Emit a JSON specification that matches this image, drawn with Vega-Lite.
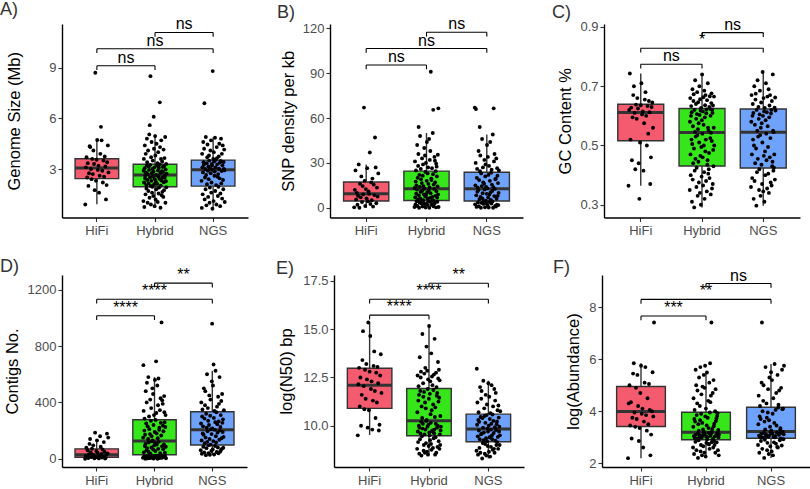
{
"padding": {"left": 0, "top": 0, "right": 0, "bottom": 0},
"datasets": {
"pts": [
{"p":"A","g":"HiFi","v":[0.9,3.1,3.7,2.5,3.35,2.0,2.75,4.35,4.3,3.0,2.4,3.6,2.7,4.1,3.3,1.75,8.7,2.3,3.55,4.72,2.95,3.2,1.6,2.6,3.9,5.5,4.7,2.9,2.2,3.5,2.55,3.75,3.15,1.2,2.05,3.4,4.4,2.8]},
{"p":"A","g":"Hybrid","v":[1.1,2.9,3.6,2.2,0.75,3.05,4.4,2.45,2.6,1.5,3.9,2.8,2.05,1.85,3.2,4.8,3.4,2.35,1.0,2.7,4.1,1.7,2.15,3.15,2.95,5.05,1.3,5.6,2.5,3.25,8.5,2.0,0.9,3.7,2.3,4.6,2.75,1.6,1.95,3.0,3.5,2.55,1.4,2.85,6.1,4.2,2.1,3.1,0.8,2.4,4.95,3.8,1.2,2.25,2.65,1.8,4.5,3.22,2.62,2.12,3.35,1.05,2.92,4.0,2.58,1.55,3.08,1.9,2.42,3.28,6.95,4.3,2.78,0.71,2.02,3.6,4.7,2.32,1.45,2.88,3.45,1.65,2.52,3.12,2.82,1.35,4.15,2.22,1.75,3.18,3.65,2.48,2.6,4.9,1.0,2.98,2.28,3.3,1.92,2.72]},
{"p":"A","g":"NGS","v":[2.3,0.7,3.9,3.1,1.5,2.8,4.6,3.4,3.25,4.2,6.9,1.2,2.5,3.0,1.8,4.9,2.65,0.85,3.35,2.1,3.7,4.45,2.9,1.35,3.15,2.4,3.8,3.5,1.0,1.9,3.05,4.1,2.75,4.7,1.6,2.2,3.3,3.2,0.65,8.8,2.95,3.6,1.1,4.0,3.45,2.6,2.85,4.85,1.7,3.1,3.55,2.05,0.9,4.3,3.65,3.28,2.55,1.4,2.7,1.95,3.75,3.02,4.5,2.45,3.38,0.8,1.55,3.48,4.8,2.15,2.88,3.9,1.25,3.22,4.4,2.35,1.8,3.42,3.0,4.15,2.92,1.05]},
{"p":"B","g":"HiFi","v":[0.3,12,25,5.5,10,2.0,8,29,0,16,7,21,3.8,14.5,9,67,18,1.2,12.5,6.3,26.5,4.4,11,9.3,37,2.5,17,5,19.5,0.8,15.5,8.5,47,27,3.0,13.5,7.5,23]},
{"p":"B","g":"Hybrid","v":[0.5,13.2,31,7,2.2,17.5,25,9.4,15,4.4,12.2,42,1.2,20,5.6,28,36,54,8.3,0,22,3.5,14,48,6.3,10.6,26,19,2.8,4.8,16.5,33,11.4,0.8,21.5,29,5,14.5,3.2,9,40,12.8,1.5,35,7.6,24,0.2,30,8.6,2.5,18,44,10.2,6,23,1.8,27,16,11.8,4.2,46,0,13.6,32,6.6,38,9.8,91,3.8,19.5,18.5,2,26.5,7.3,5.3,50,22.5,65.5,1,15.5,4.6,12.6,34,3,31.5,17,8,24.4,0.3,29.5,11,27.5,21,6.8,4,14.2,35.5,8.8,66.5,0.5]},
{"p":"B","g":"NGS","v":[67,2.3,15,30,66,8.3,0.6,20,26,10.8,13.5,3.6,11.8,38,1,18.5,5.8,54,24.5,35,7.3,0,23,3.3,14.5,46,6.3,9.8,27,17,2.6,4.4,16,32,12.3,0.3,21,29,4.8,14,3,9.3,42,13,1.6,34,6.8,22,0.2,28,8.8,3.9,18,44,10.3,5.3,23.5,2.8,25.5,15.5,11.3,4.2,49,0,13.8,66.5,31,7.8,36,12.6,1.3,19,19.5,0.8,33,6,2,26.5,21.5,8,16.5,1.8,10,25]},
{"p":"C","g":"HiFi","v":[0.364,0.62,0.743,0.52,0.628,0.45,0.595,0.67,0.7,0.61,0.42,0.638,0.59,0.66,0.625,0.44,0.32,0.51,0.636,0.71,0.605,0.615,0.415,0.575,0.655,0.68,0.6,0.5,0.633,0.54,0.65,0.612,0.37,0.46,0.63,0.645,0.56]},
{"p":"C","g":"Hybrid","v":[0.35,0.58,0.66,0.47,0.4,0.6,0.633,0.52,0.612,0.31,0.505,0.69,0.385,0.565,0.44,0.65,0.673,0.49,0.291,0.62,0.415,0.546,0.72,0.455,0.53,0.64,0.59,0.36,0.425,0.606,0.68,0.535,0.33,0.555,0.646,0.445,0.575,0.375,0.51,0.7,0.603,0.34,0.656,0.465,0.618,0.3,0.627,0.495,0.395,0.585,0.74,0.54,0.46,0.615,0.365,0.663,0.57,0.5,0.41,0.685,0.32,0.595,0.636,0.48,0.67,0.52,0.38,0.609,0.622,0.345,0.653,0.435,0.45,0.71,0.56,0.405,0.55,0.42,0.475,0.63,0.39,0.666,0.624,0.525,0.6,0.335,0.543,0.643,0.676,0.515,0.355,0.62,0.61,0.37,0.635,0.485,0.43,0.56,0.665,0.5]},
{"p":"C","g":"NGS","v":[0.36,0.58,0.67,0.47,0.39,0.6,0.64,0.52,0.61,0.32,0.5,0.7,0.38,0.57,0.44,0.655,0.675,0.49,0.297,0.62,0.41,0.55,0.72,0.455,0.53,0.63,0.59,0.35,0.42,0.605,0.685,0.535,0.33,0.56,0.645,0.435,0.575,0.37,0.51,0.748,0.6,0.345,0.66,0.465,0.615,0.31,0.627,0.48,0.4,0.585,0.71,0.54,0.45,0.612,0.355,0.665,0.565,0.495,0.405,0.69,0.34,0.595,0.635,0.46,0.67,0.525,0.375,0.608,0.62,0.365,0.65,0.43,0.445,0.74,0.55,0.415,0.545,0.425,0.47,0.628,0.385,0.662,0.618]},
{"p":"D","g":"HiFi","v":[0,20,78,14,60,5,30,105,140,44,11,71,26,95,25,3,185,10,55,130,42,18,2,22,160,85,34,8,66,16,118,50,1,6,28,178,38,150]},
{"p":"D","g":"Hybrid","v":[6,150,665,340,45,18,200,285,90,170,0,105,480,12,250,60,400,540,75,2,230,24,140,580,50,115,300,210,4,26,175,420,35,8,270,360,80,160,16,124,500,130,3,460,65,240,1,310,95,20,190,560,110,55,276,10,692,325,180,100,22,520,0,145,380,70,570,120,14,205,220,5,345,40,30,430,255,27,165,969,7,88,415,9,390,235,68,195,15,102,445,330,260,42,19,225,310,85,3]},
{"p":"D","g":"NGS","v":[60,250,400,130,35,300,350,180,230,85,170,500,45,285,110,380,480,150,25,320,75,220,600,120,195,360,270,40,95,240,450,140,28,305,420,100,210,55,175,550,960,215,65,520,125,670,290,30,340,205,90,260,625,160,115,330,48,370,245,185,80,440,38,265,390,135,580,200,50,225,310,62,410,145,70,460,255,190,280,78,155,345]},
{"p":"E","g":"HiFi","v":[9.5,12.15,13.0,11.0,12.5,10.0,11.6,13.4,14.9,12.05,10.85,12.9,11.4,13.2,12.4,9.9,15.35,10.8,12.8,14.65,11.9,12.3,9.8,11.3,13.1,13.85,11.8,10.4,12.75,11.2,13.05,12.2,9.75,10.05,12.6,13.7,11.7]},
{"p":"E","g":"Hybrid","v":[8.8,10.7,12.6,9.7,9.15,11.3,12.05,10.0,11.6,8.55,9.9,13.55,9.3,11.8,9.6,12.5,12.8,10.2,8.45,11.0,9.45,10.4,14.75,9.85,10.1,12.2,11.5,8.7,9.0,11.75,12.7,9.55,8.6,11.2,13.0,9.8,10.9,9.1,10.25,14.1,10.3,8.65,12.85,9.95,11.9,8.5,12.4,10.05,8.95,11.4,15.17,9.65,9.5,11.65,9.25,12.3,10.6,10.15,9.05,13.75,8.75,10.8,12.55,9.75,12.1,9.7,8.85,11.1,11.85,9.35,12.65,9.6,9.8,14.5,10.45,8.5,10.95,9.4,10.1,12.75,8.6,12.0,11.55,9.9,11.7,8.9,10.0,13.3,12.45,11.25,9.2,12.9,11.45,8.8,12.35,9.55,9.0,10.5,9.75,9.95]},
{"p":"E","g":"NGS","v":[8.7,12.95,10.05,11.2,9.45,8.5,10.3,10.7,9.75,10.2,8.85,9.3,12.0,8.6,10.45,9.55,11.4,11.8,9.6,8.3,10.4,9.1,9.9,12.33,9.25,9.65,10.9,10.5,8.55,9.05,10.15,11.6,9.35,8.45,10.55,11.1,9.2,9.85,8.95,9.7,12.2,10.0,8.65,11.5,9.4,10.35,8.4,10.65,9.8,8.9,10.1,12.1,9.5,9.3,10.58,8.75,11.0,10.25,9.62,8.8,11.9,8.6,9.92,11.3,9.22,11.7,9.78,9.0,10.08,10.22,9.15,10.8,9.42,8.8,11.05,10.42,9.7,9.95,9.0,9.5,10.75]},
{"p":"F","g":"HiFi","v":[2.19,4.3,5.0,3.45,4.35,2.95,3.75,5.45,5.85,3.95,3.4,4.9,3.7,5.4,4.2,2.85,3.35,4.7,5.75,3.9,4.1,2.6,3.6,5.1,5.7,3.85,3.25,4.5,3.5,5.05,4.05,2.3,3.1,4.0,5.5,3.8,7.42]},
{"p":"F","g":"Hybrid","v":[2.6,3.4,4.5,3.04,2.35,3.7,4.05,2.96,3.6,2.82,5.6,3.1,5.0,2.5,3.85,2.94,4.3,4.8,3.14,2.2,3.5,2.88,3.25,5.3,3.0,3.08,4.2,3.65,5.7,2.45,2.7,3.9,4.65,2.98,2.3,3.55,4.95,3.06,3.3,2.65,3.18,5.4,3.2,2.4,4.9,3.12,5.75,3.8,2.25,4.1,3.02,2.78,3.45,5.49,2.92,3.0,3.75,2.75,4.4,3.35,3.16,2.72,5.1,2.55,3.95,5.85,4.35,3.05,4.6,3.15,7.42,2.8,3.22,3.32,2.9,4.7,2.93,2.6,5.2,3.42,2.85,3.52,2.7,3.03,4.0,2.4,4.85,3.62,3.07,3.72,2.8,3.13,3.82,3.92,3.17,2.5,3.28,2.99,2.3,3.1]},
{"p":"F","g":"NGS","v":[2.7,3.5,4.6,3.06,2.4,3.8,4.2,3.0,3.7,2.85,3.12,5.1,7.42,2.55,4.0,2.98,4.4,5.0,3.16,2.2,3.6,2.9,3.3,5.7,3.04,3.1,4.3,3.75,2.5,2.78,3.95,4.85,3.02,2.35,3.65,5.3,3.08,3.4,2.65,3.2,5.5,3.25,2.45,5.2,3.14,3.9,2.3,4.5,3.01,2.8,3.55,5.82,2.99,3.05,4.05,2.75,4.7,3.45,3.18,2.62,5.4,2.6,4.14,4.25,3.09,4.8,3.13,2.88,3.28,3.35,2.95,4.9,3.17,2.68,5.6,4.08,3.21,4.1,2.92,3.11,5.75]}
],
"box": [
{"p":"A","g":"HiFi","lo":0.91,"q1":2.43,"md":3.06,"q3":3.61,"hi":4.72},
{"p":"A","g":"Hybrid","lo":0.71,"q1":1.95,"md":2.64,"q3":3.28,"hi":5.05},
{"p":"A","g":"NGS","lo":0.65,"q1":1.99,"md":2.96,"q3":3.53,"hi":4.89},
{"p":"B","g":"HiFi","lo":0,"q1":4.5,"md":9.4,"q3":17.2,"hi":29},
{"p":"B","g":"Hybrid","lo":0,"q1":4.9,"md":12.7,"q3":24.5,"hi":50},
{"p":"B","g":"NGS","lo":0,"q1":4.5,"md":12.7,"q3":23.8,"hi":49},
{"p":"C","g":"HiFi","lo":0.364,"q1":0.516,"md":0.611,"q3":0.639,"hi":0.743},
{"p":"C","g":"Hybrid","lo":0.291,"q1":0.431,"md":0.544,"q3":0.625,"hi":0.74},
{"p":"C","g":"NGS","lo":0.297,"q1":0.424,"md":0.545,"q3":0.623,"hi":0.748},
{"p":"D","g":"HiFi","lo":0,"q1":10,"md":28,"q3":70,"hi":140},
{"p":"D","g":"Hybrid","lo":0,"q1":28,"md":125,"q3":277,"hi":580},
{"p":"D","g":"NGS","lo":25,"q1":97,"md":206,"q3":334,"hi":625},
{"p":"E","g":"HiFi","lo":9.52,"q1":10.9,"md":12.1,"q3":12.98,"hi":15.35},
{"p":"E","g":"Hybrid","lo":8.45,"q1":9.48,"md":10.26,"q3":11.93,"hi":15.17},
{"p":"E","g":"NGS","lo":8.3,"q1":9.17,"md":9.83,"q3":10.6,"hi":12.33},
{"p":"F","g":"HiFi","lo":2.19,"q1":3.41,"md":3.99,"q3":4.95,"hi":5.85},
{"p":"F","g":"Hybrid","lo":2.2,"q1":2.9,"md":3.19,"q3":3.96,"hi":5.49},
{"p":"F","g":"NGS","lo":2.2,"q1":2.96,"md":3.22,"q3":4.15,"hi":5.82}
],
"brk": [
{"p":"A","g1":"HiFi","g2":"Hybrid","y":9.12,"t":8.87,"lab":"ns"},
{"p":"A","g1":"HiFi","g2":"NGS","y":10.12,"t":9.87,"lab":"ns"},
{"p":"A","g1":"Hybrid","g2":"NGS","y":11.09,"t":10.84,"lab":"ns"},
{"p":"B","g1":"HiFi","g2":"Hybrid","y":95.5,"t":92.6,"lab":"ns"},
{"p":"B","g1":"HiFi","g2":"NGS","y":106.5,"t":103.6,"lab":"ns"},
{"p":"B","g1":"Hybrid","g2":"NGS","y":117.4,"t":114.5,"lab":"ns"},
{"p":"C","g1":"HiFi","g2":"Hybrid","y":0.774,"t":0.7595,"lab":"ns"},
{"p":"C","g1":"HiFi","g2":"NGS","y":0.828,"t":0.8135,"lab":"*"},
{"p":"C","g1":"Hybrid","g2":"NGS","y":0.881,"t":0.8665,"lab":"ns"},
{"p":"D","g1":"HiFi","g2":"Hybrid","y":1016,"t":986,"lab":"****"},
{"p":"D","g1":"HiFi","g2":"NGS","y":1134,"t":1104,"lab":"****"},
{"p":"D","g1":"Hybrid","g2":"NGS","y":1248,"t":1218,"lab":"**"},
{"p":"E","g1":"HiFi","g2":"Hybrid","y":15.73,"t":15.51,"lab":"****"},
{"p":"E","g1":"HiFi","g2":"NGS","y":16.55,"t":16.33,"lab":"****"},
{"p":"E","g1":"Hybrid","g2":"NGS","y":17.38,"t":17.16,"lab":"**"},
{"p":"F","g1":"HiFi","g2":"Hybrid","y":7.67,"t":7.505,"lab":"***"},
{"p":"F","g1":"HiFi","g2":"NGS","y":8.31,"t":8.145,"lab":"**"},
{"p":"F","g1":"Hybrid","g2":"NGS","y":8.92,"t":8.755,"lab":"ns"}
]
},
"resolve": {"scale": {"xOffset": "independent"}},
"vconcat": [
{"resolve": {"scale": {"xOffset": "independent"}},
"hconcat": [
{"width": 186, "height": 193.5, "title": {"text": "A)", "dx": -62, "offset": -2.5},
"resolve": {"scale": {"xOffset": "independent"}},
"layer": [
{"data":{"name":"box"},"transform":[{"filter":"datum.p==='A'"}],"mark":{"type":"rule","color":"#333333","strokeWidth":1.4},"encoding":{"x":{"field":"g","type":"nominal","title":null,"scale":{"domain":["HiFi","Hybrid","NGS"],"paddingInner":0.25,"paddingOuter":0.225}},"y":{"field":"lo","type":"quantitative","title":"Genome Size (Mb)","scale":{"domain":[0.13,11.59],"nice":false,"zero":false},"axis":{"values":[3,6,9],"format":"d","titleX":-48}},"y2":{"field":"hi"}}},
{"data":{"name":"box"},"transform":[{"filter":"datum.p==='A'"}],"mark":{"type":"bar","stroke":"#333333","strokeWidth":1.4},"encoding":{"x":{"field":"g","type":"nominal","title":null},"y":{"field":"q1","type":"quantitative","title":"Genome Size (Mb)"},"y2":{"field":"q3"},"fill":{"field":"g","type":"nominal","scale":{"domain":["HiFi","Hybrid","NGS"],"range":["#F55B6F","#37E51B","#6FA2FA"]},"legend":null}}},
{"data":{"name":"box"},"transform":[{"filter":"datum.p==='A'"}],"mark":{"type":"tick","color":"#333333","thickness":3,"size":43.6,"opacity":1},"encoding":{"x":{"field":"g","type":"nominal","title":null},"y":{"field":"md","type":"quantitative","title":"Genome Size (Mb)"}}},
{"data":{"name":"pts"},"transform":[{"filter":"datum.p==='A'"},{"flatten":["v"]},{"window":[{"op":"row_number","as":"rn"}],"groupby":["g"]},{"window":[{"op":"percent_rank","as":"pr"}],"sort":[{"field":"rn","order":"ascending"}],"groupby":["g"]}],"mark":{"type":"circle","color":"#000000","opacity":1,"size":15},"encoding":{"x":{"field":"g","type":"nominal","title":null},"xOffset":{"field":"pr","type":"quantitative","scale":{"domain":[0,1],"range":[10.2,33.4]}},"y":{"field":"v","type":"quantitative","title":"Genome Size (Mb)"}}},
{"data":{"name":"brk"},"transform":[{"filter":"datum.p==='A'"}],"mark":{"type":"rule","color":"#000000","strokeWidth":1.1},"encoding":{"x":{"field":"g1","type":"nominal","title":null},"x2":{"field":"g2"},"y":{"field":"y","type":"quantitative","title":"Genome Size (Mb)"}}},
{"data":{"name":"brk"},"transform":[{"filter":"datum.p==='A'"}],"mark":{"type":"rule","color":"#000000","strokeWidth":1.1},"encoding":{"x":{"field":"g1","type":"nominal","title":null},"y":{"field":"y","type":"quantitative","title":"Genome Size (Mb)"},"y2":{"field":"t"}}},
{"data":{"name":"brk"},"transform":[{"filter":"datum.p==='A'"}],"mark":{"type":"rule","color":"#000000","strokeWidth":1.1},"encoding":{"x":{"field":"g2","type":"nominal","title":null},"y":{"field":"y","type":"quantitative","title":"Genome Size (Mb)"},"y2":{"field":"t"}}},
{"data":{"name":"brk"},"transform":[{"filter":"datum.p==='A' && datum.g1+datum.g2!=='HiFiNGS'"}],"mark":{"type":"text","fontSize":16,"color":"#000000","baseline":"alphabetic","dx":29.1,"dy":-3},"encoding":{"x":{"field":"g1","type":"nominal","title":null},"y":{"field":"y","type":"quantitative","title":"Genome Size (Mb)"},"text":{"field":"lab"}}},
{"data":{"name":"brk"},"transform":[{"filter":"datum.p==='A' && datum.g1+datum.g2==='HiFiNGS'"}],"mark":{"type":"text","fontSize":16,"color":"#000000","baseline":"alphabetic","dx":58.1,"dy":-3},"encoding":{"x":{"field":"g1","type":"nominal","title":null},"y":{"field":"y","type":"quantitative","title":"Genome Size (Mb)"},"text":{"field":"lab"}}}
]},
{"width": 193, "height": 193.5, "title": {"text": "B)", "dx": -53, "offset": -6.2},
"resolve": {"scale": {"xOffset": "independent"}},
"layer": [
{"data":{"name":"box"},"transform":[{"filter":"datum.p==='B'"}],"mark":{"type":"rule","color":"#333333","strokeWidth":1.4},"encoding":{"x":{"field":"g","type":"nominal","title":null,"scale":{"domain":["HiFi","Hybrid","NGS"],"paddingInner":0.25,"paddingOuter":0.225}},"y":{"field":"lo","type":"quantitative","title":"SNP density per kb","scale":{"domain":[-6.5,122.9],"nice":false,"zero":false},"axis":{"values":[0,30,60,90,120],"format":"d","titleX":-42}},"y2":{"field":"hi"}}},
{"data":{"name":"box"},"transform":[{"filter":"datum.p==='B'"}],"mark":{"type":"bar","stroke":"#333333","strokeWidth":1.4},"encoding":{"x":{"field":"g","type":"nominal","title":null},"y":{"field":"q1","type":"quantitative","title":"SNP density per kb"},"y2":{"field":"q3"},"fill":{"field":"g","type":"nominal","scale":{"domain":["HiFi","Hybrid","NGS"],"range":["#F55B6F","#37E51B","#6FA2FA"]},"legend":null}}},
{"data":{"name":"box"},"transform":[{"filter":"datum.p==='B'"}],"mark":{"type":"tick","color":"#333333","thickness":3,"size":45.2,"opacity":1},"encoding":{"x":{"field":"g","type":"nominal","title":null},"y":{"field":"md","type":"quantitative","title":"SNP density per kb"}}},
{"data":{"name":"pts"},"transform":[{"filter":"datum.p==='B'"},{"flatten":["v"]},{"window":[{"op":"row_number","as":"rn"}],"groupby":["g"]},{"window":[{"op":"percent_rank","as":"pr"}],"sort":[{"field":"rn","order":"ascending"}],"groupby":["g"]}],"mark":{"type":"circle","color":"#000000","opacity":1,"size":15},"encoding":{"x":{"field":"g","type":"nominal","title":null},"xOffset":{"field":"pr","type":"quantitative","scale":{"domain":[0,1],"range":[10.6,34.7]}},"y":{"field":"v","type":"quantitative","title":"SNP density per kb"}}},
{"data":{"name":"brk"},"transform":[{"filter":"datum.p==='B'"}],"mark":{"type":"rule","color":"#000000","strokeWidth":1.1},"encoding":{"x":{"field":"g1","type":"nominal","title":null},"x2":{"field":"g2"},"y":{"field":"y","type":"quantitative","title":"SNP density per kb"}}},
{"data":{"name":"brk"},"transform":[{"filter":"datum.p==='B'"}],"mark":{"type":"rule","color":"#000000","strokeWidth":1.1},"encoding":{"x":{"field":"g1","type":"nominal","title":null},"y":{"field":"y","type":"quantitative","title":"SNP density per kb"},"y2":{"field":"t"}}},
{"data":{"name":"brk"},"transform":[{"filter":"datum.p==='B'"}],"mark":{"type":"rule","color":"#000000","strokeWidth":1.1},"encoding":{"x":{"field":"g2","type":"nominal","title":null},"y":{"field":"y","type":"quantitative","title":"SNP density per kb"},"y2":{"field":"t"}}},
{"data":{"name":"brk"},"transform":[{"filter":"datum.p==='B' && datum.g1+datum.g2!=='HiFiNGS'"}],"mark":{"type":"text","fontSize":16,"color":"#000000","baseline":"alphabetic","dx":30.2,"dy":-3},"encoding":{"x":{"field":"g1","type":"nominal","title":null},"y":{"field":"y","type":"quantitative","title":"SNP density per kb"},"text":{"field":"lab"}}},
{"data":{"name":"brk"},"transform":[{"filter":"datum.p==='B' && datum.g1+datum.g2==='HiFiNGS'"}],"mark":{"type":"text","fontSize":16,"color":"#000000","baseline":"alphabetic","dx":60.3,"dy":-3},"encoding":{"x":{"field":"g1","type":"nominal","title":null},"y":{"field":"y","type":"quantitative","title":"SNP density per kb"},"text":{"field":"lab"}}}
]},
{"width": 196, "height": 193.5, "title": {"text": "C)", "dx": -52, "offset": -5.2},
"resolve": {"scale": {"xOffset": "independent"}},
"layer": [
{"data":{"name":"box"},"transform":[{"filter":"datum.p==='C'"}],"mark":{"type":"rule","color":"#333333","strokeWidth":1.4},"encoding":{"x":{"field":"g","type":"nominal","title":null,"scale":{"domain":["HiFi","Hybrid","NGS"],"paddingInner":0.25,"paddingOuter":0.225}},"y":{"field":"lo","type":"quantitative","title":"GC Content %","scale":{"domain":[0.257,0.91],"nice":false,"zero":false},"axis":{"values":[0.3,0.4,0.5,0.6,0.7,0.8,0.9],"format":".1f","titleX":-39}},"y2":{"field":"hi"}}},
{"data":{"name":"box"},"transform":[{"filter":"datum.p==='C'"}],"mark":{"type":"bar","stroke":"#333333","strokeWidth":1.4},"encoding":{"x":{"field":"g","type":"nominal","title":null},"y":{"field":"q1","type":"quantitative","title":"GC Content %"},"y2":{"field":"q3"},"fill":{"field":"g","type":"nominal","scale":{"domain":["HiFi","Hybrid","NGS"],"range":["#F55B6F","#37E51B","#6FA2FA"]},"legend":null}}},
{"data":{"name":"box"},"transform":[{"filter":"datum.p==='C'"}],"mark":{"type":"tick","color":"#333333","thickness":3,"size":45.9,"opacity":1},"encoding":{"x":{"field":"g","type":"nominal","title":null},"y":{"field":"md","type":"quantitative","title":"GC Content %"}}},
{"data":{"name":"pts"},"transform":[{"filter":"datum.p==='C'"},{"flatten":["v"]},{"window":[{"op":"row_number","as":"rn"}],"groupby":["g"]},{"window":[{"op":"percent_rank","as":"pr"}],"sort":[{"field":"rn","order":"ascending"}],"groupby":["g"]}],"mark":{"type":"circle","color":"#000000","opacity":1,"size":15},"encoding":{"x":{"field":"g","type":"nominal","title":null},"xOffset":{"field":"pr","type":"quantitative","scale":{"domain":[0,1],"range":[10.7,35.2]}},"y":{"field":"v","type":"quantitative","title":"GC Content %"}}},
{"data":{"name":"brk"},"transform":[{"filter":"datum.p==='C'"}],"mark":{"type":"rule","color":"#000000","strokeWidth":1.1},"encoding":{"x":{"field":"g1","type":"nominal","title":null},"x2":{"field":"g2"},"y":{"field":"y","type":"quantitative","title":"GC Content %"}}},
{"data":{"name":"brk"},"transform":[{"filter":"datum.p==='C'"}],"mark":{"type":"rule","color":"#000000","strokeWidth":1.1},"encoding":{"x":{"field":"g1","type":"nominal","title":null},"y":{"field":"y","type":"quantitative","title":"GC Content %"},"y2":{"field":"t"}}},
{"data":{"name":"brk"},"transform":[{"filter":"datum.p==='C'"}],"mark":{"type":"rule","color":"#000000","strokeWidth":1.1},"encoding":{"x":{"field":"g2","type":"nominal","title":null},"y":{"field":"y","type":"quantitative","title":"GC Content %"},"y2":{"field":"t"}}},
{"data":{"name":"brk"},"transform":[{"filter":"datum.p==='C' && datum.g1+datum.g2!=='HiFiNGS'"}],"mark":{"type":"text","fontSize":16,"color":"#000000","baseline":"alphabetic","dx":30.6,"dy":-3},"encoding":{"x":{"field":"g1","type":"nominal","title":null},"y":{"field":"y","type":"quantitative","title":"GC Content %"},"text":{"field":"lab"}}},
{"data":{"name":"brk"},"transform":[{"filter":"datum.p==='C' && datum.g1+datum.g2==='HiFiNGS'"}],"mark":{"type":"text","fontSize":16,"color":"#000000","baseline":"alphabetic","dx":61.3,"dy":-3},"encoding":{"x":{"field":"g1","type":"nominal","title":null},"y":{"field":"y","type":"quantitative","title":"GC Content %"},"text":{"field":"lab"}}}
]}
], "spacing": 29},
{"resolve": {"scale": {"xOffset": "independent"}},
"hconcat": [
{"width": 185, "height": 192, "title": {"text": "D)", "dx": -62, "offset": -9.1},
"resolve": {"scale": {"xOffset": "independent"}},
"layer": [
{"data":{"name":"box"},"transform":[{"filter":"datum.p==='D'"}],"mark":{"type":"rule","color":"#333333","strokeWidth":1.4},"encoding":{"x":{"field":"g","type":"nominal","title":null,"scale":{"domain":["HiFi","Hybrid","NGS"],"paddingInner":0.25,"paddingOuter":0.225}},"y":{"field":"lo","type":"quantitative","title":"Contigs No.","scale":{"domain":[-59,1306],"nice":false,"zero":false},"axis":{"values":[0,400,800,1200],"format":"d","titleX":-50}},"y2":{"field":"hi"}}},
{"data":{"name":"box"},"transform":[{"filter":"datum.p==='D'"}],"mark":{"type":"bar","stroke":"#333333","strokeWidth":1.4},"encoding":{"x":{"field":"g","type":"nominal","title":null},"y":{"field":"q1","type":"quantitative","title":"Contigs No."},"y2":{"field":"q3"},"fill":{"field":"g","type":"nominal","scale":{"domain":["HiFi","Hybrid","NGS"],"range":["#F55B6F","#37E51B","#6FA2FA"]},"legend":null}}},
{"data":{"name":"box"},"transform":[{"filter":"datum.p==='D'"}],"mark":{"type":"tick","color":"#333333","thickness":3,"size":43.4,"opacity":1},"encoding":{"x":{"field":"g","type":"nominal","title":null},"y":{"field":"md","type":"quantitative","title":"Contigs No."}}},
{"data":{"name":"pts"},"transform":[{"filter":"datum.p==='D'"},{"flatten":["v"]},{"window":[{"op":"row_number","as":"rn"}],"groupby":["g"]},{"window":[{"op":"percent_rank","as":"pr"}],"sort":[{"field":"rn","order":"ascending"}],"groupby":["g"]}],"mark":{"type":"circle","color":"#000000","opacity":1,"size":15},"encoding":{"x":{"field":"g","type":"nominal","title":null},"xOffset":{"field":"pr","type":"quantitative","scale":{"domain":[0,1],"range":[10.1,33.2]}},"y":{"field":"v","type":"quantitative","title":"Contigs No."}}},
{"data":{"name":"brk"},"transform":[{"filter":"datum.p==='D'"}],"mark":{"type":"rule","color":"#000000","strokeWidth":1.1},"encoding":{"x":{"field":"g1","type":"nominal","title":null},"x2":{"field":"g2"},"y":{"field":"y","type":"quantitative","title":"Contigs No."}}},
{"data":{"name":"brk"},"transform":[{"filter":"datum.p==='D'"}],"mark":{"type":"rule","color":"#000000","strokeWidth":1.1},"encoding":{"x":{"field":"g1","type":"nominal","title":null},"y":{"field":"y","type":"quantitative","title":"Contigs No."},"y2":{"field":"t"}}},
{"data":{"name":"brk"},"transform":[{"filter":"datum.p==='D'"}],"mark":{"type":"rule","color":"#000000","strokeWidth":1.1},"encoding":{"x":{"field":"g2","type":"nominal","title":null},"y":{"field":"y","type":"quantitative","title":"Contigs No."},"y2":{"field":"t"}}},
{"data":{"name":"brk"},"transform":[{"filter":"datum.p==='D' && datum.g1+datum.g2!=='HiFiNGS'"}],"mark":{"type":"text","fontSize":16,"color":"#000000","baseline":"alphabetic","dx":28.9,"dy":-3},"encoding":{"x":{"field":"g1","type":"nominal","title":null},"y":{"field":"y","type":"quantitative","title":"Contigs No."},"text":{"field":"lab"}}},
{"data":{"name":"brk"},"transform":[{"filter":"datum.p==='D' && datum.g1+datum.g2==='HiFiNGS'"}],"mark":{"type":"text","fontSize":16,"color":"#000000","baseline":"alphabetic","dx":57.8,"dy":-3},"encoding":{"x":{"field":"g1","type":"nominal","title":null},"y":{"field":"y","type":"quantitative","title":"Contigs No."},"text":{"field":"lab"}}}
]},
{"width": 190, "height": 192, "title": {"text": "E)", "dx": -58, "offset": -10.8},
"resolve": {"scale": {"xOffset": "independent"}},
"layer": [
{"data":{"name":"box"},"transform":[{"filter":"datum.p==='E'"}],"mark":{"type":"rule","color":"#333333","strokeWidth":1.4},"encoding":{"x":{"field":"g","type":"nominal","title":null,"scale":{"domain":["HiFi","Hybrid","NGS"],"paddingInner":0.25,"paddingOuter":0.225}},"y":{"field":"lo","type":"quantitative","title":"log(N50) bp","scale":{"domain":[7.86,17.81],"nice":false,"zero":false},"axis":{"values":[10,12.5,15,17.5],"format":".1f","titleX":-48}},"y2":{"field":"hi"}}},
{"data":{"name":"box"},"transform":[{"filter":"datum.p==='E'"}],"mark":{"type":"bar","stroke":"#333333","strokeWidth":1.4},"encoding":{"x":{"field":"g","type":"nominal","title":null},"y":{"field":"q1","type":"quantitative","title":"log(N50) bp"},"y2":{"field":"q3"},"fill":{"field":"g","type":"nominal","scale":{"domain":["HiFi","Hybrid","NGS"],"range":["#F55B6F","#37E51B","#6FA2FA"]},"legend":null}}},
{"data":{"name":"box"},"transform":[{"filter":"datum.p==='E'"}],"mark":{"type":"tick","color":"#333333","thickness":3,"size":44.5,"opacity":1},"encoding":{"x":{"field":"g","type":"nominal","title":null},"y":{"field":"md","type":"quantitative","title":"log(N50) bp"}}},
{"data":{"name":"pts"},"transform":[{"filter":"datum.p==='E'"},{"flatten":["v"]},{"window":[{"op":"row_number","as":"rn"}],"groupby":["g"]},{"window":[{"op":"percent_rank","as":"pr"}],"sort":[{"field":"rn","order":"ascending"}],"groupby":["g"]}],"mark":{"type":"circle","color":"#000000","opacity":1,"size":15},"encoding":{"x":{"field":"g","type":"nominal","title":null},"xOffset":{"field":"pr","type":"quantitative","scale":{"domain":[0,1],"range":[10.4,34.1]}},"y":{"field":"v","type":"quantitative","title":"log(N50) bp"}}},
{"data":{"name":"brk"},"transform":[{"filter":"datum.p==='E'"}],"mark":{"type":"rule","color":"#000000","strokeWidth":1.1},"encoding":{"x":{"field":"g1","type":"nominal","title":null},"x2":{"field":"g2"},"y":{"field":"y","type":"quantitative","title":"log(N50) bp"}}},
{"data":{"name":"brk"},"transform":[{"filter":"datum.p==='E'"}],"mark":{"type":"rule","color":"#000000","strokeWidth":1.1},"encoding":{"x":{"field":"g1","type":"nominal","title":null},"y":{"field":"y","type":"quantitative","title":"log(N50) bp"},"y2":{"field":"t"}}},
{"data":{"name":"brk"},"transform":[{"filter":"datum.p==='E'"}],"mark":{"type":"rule","color":"#000000","strokeWidth":1.1},"encoding":{"x":{"field":"g2","type":"nominal","title":null},"y":{"field":"y","type":"quantitative","title":"log(N50) bp"},"y2":{"field":"t"}}},
{"data":{"name":"brk"},"transform":[{"filter":"datum.p==='E' && datum.g1+datum.g2!=='HiFiNGS'"}],"mark":{"type":"text","fontSize":16,"color":"#000000","baseline":"alphabetic","dx":29.7,"dy":-3},"encoding":{"x":{"field":"g1","type":"nominal","title":null},"y":{"field":"y","type":"quantitative","title":"log(N50) bp"},"text":{"field":"lab"}}},
{"data":{"name":"brk"},"transform":[{"filter":"datum.p==='E' && datum.g1+datum.g2==='HiFiNGS'"}],"mark":{"type":"text","fontSize":16,"color":"#000000","baseline":"alphabetic","dx":59.4,"dy":-3},"encoding":{"x":{"field":"g1","type":"nominal","title":null},"y":{"field":"y","type":"quantitative","title":"log(N50) bp"},"text":{"field":"lab"}}}
]},
{"width": 208, "height": 192, "title": {"text": "F)", "dx": -49, "offset": -9.1},
"resolve": {"scale": {"xOffset": "independent"}},
"layer": [
{"data":{"name":"box"},"transform":[{"filter":"datum.p==='F'"}],"mark":{"type":"rule","color":"#333333","strokeWidth":1.4},"encoding":{"x":{"field":"g","type":"nominal","title":null,"scale":{"domain":["HiFi","Hybrid","NGS"],"paddingInner":0.25,"paddingOuter":0.225}},"y":{"field":"lo","type":"quantitative","title":"log(Abundance)","scale":{"domain":[1.85,9.25],"nice":false,"zero":false},"axis":{"values":[2,4,6,8],"format":"d","titleX":-29}},"y2":{"field":"hi"}}},
{"data":{"name":"box"},"transform":[{"filter":"datum.p==='F'"}],"mark":{"type":"bar","stroke":"#333333","strokeWidth":1.4},"encoding":{"x":{"field":"g","type":"nominal","title":null},"y":{"field":"q1","type":"quantitative","title":"log(Abundance)"},"y2":{"field":"q3"},"fill":{"field":"g","type":"nominal","scale":{"domain":["HiFi","Hybrid","NGS"],"range":["#F55B6F","#37E51B","#6FA2FA"]},"legend":null}}},
{"data":{"name":"box"},"transform":[{"filter":"datum.p==='F'"}],"mark":{"type":"tick","color":"#333333","thickness":3,"size":48.75,"opacity":1},"encoding":{"x":{"field":"g","type":"nominal","title":null},"y":{"field":"md","type":"quantitative","title":"log(Abundance)"}}},
{"data":{"name":"pts"},"transform":[{"filter":"datum.p==='F'"},{"flatten":["v"]},{"window":[{"op":"row_number","as":"rn"}],"groupby":["g"]},{"window":[{"op":"percent_rank","as":"pr"}],"sort":[{"field":"rn","order":"ascending"}],"groupby":["g"]}],"mark":{"type":"circle","color":"#000000","opacity":1,"size":15},"encoding":{"x":{"field":"g","type":"nominal","title":null},"xOffset":{"field":"pr","type":"quantitative","scale":{"domain":[0,1],"range":[11.4,37.4]}},"y":{"field":"v","type":"quantitative","title":"log(Abundance)"}}},
{"data":{"name":"brk"},"transform":[{"filter":"datum.p==='F'"}],"mark":{"type":"rule","color":"#000000","strokeWidth":1.1},"encoding":{"x":{"field":"g1","type":"nominal","title":null},"x2":{"field":"g2"},"y":{"field":"y","type":"quantitative","title":"log(Abundance)"}}},
{"data":{"name":"brk"},"transform":[{"filter":"datum.p==='F'"}],"mark":{"type":"rule","color":"#000000","strokeWidth":1.1},"encoding":{"x":{"field":"g1","type":"nominal","title":null},"y":{"field":"y","type":"quantitative","title":"log(Abundance)"},"y2":{"field":"t"}}},
{"data":{"name":"brk"},"transform":[{"filter":"datum.p==='F'"}],"mark":{"type":"rule","color":"#000000","strokeWidth":1.1},"encoding":{"x":{"field":"g2","type":"nominal","title":null},"y":{"field":"y","type":"quantitative","title":"log(Abundance)"},"y2":{"field":"t"}}},
{"data":{"name":"brk"},"transform":[{"filter":"datum.p==='F' && datum.g1+datum.g2!=='HiFiNGS'"}],"mark":{"type":"text","fontSize":16,"color":"#000000","baseline":"alphabetic","dx":32.5,"dy":-3},"encoding":{"x":{"field":"g1","type":"nominal","title":null},"y":{"field":"y","type":"quantitative","title":"log(Abundance)"},"text":{"field":"lab"}}},
{"data":{"name":"brk"},"transform":[{"filter":"datum.p==='F' && datum.g1+datum.g2==='HiFiNGS'"}],"mark":{"type":"text","fontSize":16,"color":"#000000","baseline":"alphabetic","dx":65,"dy":-3},"encoding":{"x":{"field":"g1","type":"nominal","title":null},"y":{"field":"y","type":"quantitative","title":"log(Abundance)"},"text":{"field":"lab"}}}
]}
], "spacing": 29}
],
"spacing": 20,
"config": {
"font": "Liberation Sans",
"view": {"stroke": null},
"axis": {"grid": false, "domainColor": "#000000", "domainWidth": 1.4, "tickColor": "#333333", "tickWidth": 1.1, "tickSize": 4, "labelColor": "#4D4D4D", "labelFontSize": 13, "labelPadding": 2, "titleColor": "#000000", "titleFontSize": 16.5, "titleFontWeight": "normal"},
"axisY": {"titleBaseline": "middle"},
"axisX": {"labelPadding": 3, "labelAngle": 0},
"title": {"fontSize": 18, "fontWeight": "normal", "color": "#333333", "anchor": "start", "frame": "group", "baseline": "alphabetic"}
}
}
